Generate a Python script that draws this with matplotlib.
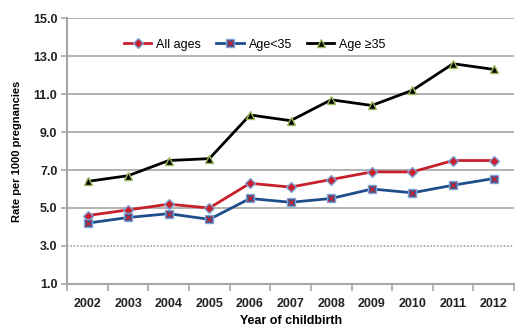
import matplotlib
matplotlib.use("Agg")
import matplotlib.pyplot as plt
from matplotlib.ticker import FixedLocator

years = ["2002", "2003", "2004", "2005", "2006", "2007", "2008", "2009", "2010", "2011", "2012"]
all_ages = [4.6, 4.9, 5.2, 5.0, 6.3, 6.1, 6.5, 6.9, 6.9, 7.5, 7.5]
age_lt35 = [4.2, 4.5, 4.7, 4.4, 5.5, 5.3, 5.5, 6.0, 5.8, 6.2, 6.55]
age_ge35 = [6.4, 6.7, 7.5, 7.6, 9.9, 9.6, 10.7, 10.4, 11.2, 12.6, 12.3]
yticks = [1.0, 3.0, 5.0, 7.0, 9.0, 11.0, 13.0, 15.0]

plt.rcParams['font.family'] = ['Liberation Sans', 'DejaVu Sans']

fig = plt.figure(figsize=(5.25, 3.36), dpi=100)
ax = fig.add_axes([0.128, 0.155, 0.851, 0.791])
x = list(range(len(years)))

for y in yticks[1:]:
    ls = (0, (1, 1)) if y == 3.0 else '-'
    ax.axhline(y, color='#a6a6a6', lw=1.2, ls=ls, zorder=0)

l1, = ax.plot(x, all_ages, color='#c8202c', lw=2, marker='D', ms=5.5,
              mfc='#c8202c', mec='#7ea6d8', mew=1, zorder=3)
l2, = ax.plot(x, age_lt35, color='#1f4e8c', lw=2, marker='s', ms=5.5,
              mfc='#2a5b9a', mec='#7ea6d8', mew=1, zorder=3)
l2x, = ax.plot(x, age_lt35, ls='none', marker='x', ms=4, mec='#c8202c', mew=1, zorder=4)
l3, = ax.plot(x, age_ge35, color='#000000', lw=2, marker='^', ms=6,
              mfc='#000000', mec='#9bbb59', mew=1, zorder=3)

ax.set_xlim(-0.5, len(years) - 0.5)
ax.set_ylim(1.0, 15.0)
ax.set_yticks(yticks)
ax.set_yticklabels(["%.1f" % v for v in yticks], fontweight='bold', fontsize=9, color='#222222')
ax.set_xticks(x)
ax.set_xticklabels(years, fontweight='bold', fontsize=9, color='#222222')
ax.tick_params(axis='x', which='major', length=0, pad=10)
ax.xaxis.set_minor_locator(FixedLocator([i - 0.5 for i in range(len(years) + 1)]))
ax.tick_params(axis='x', which='minor', length=5, color='#a6a6a6', width=1.2)
ax.tick_params(axis='y', length=4, color='#a6a6a6', width=1.2, pad=3)

for s in ['top', 'right']:
    ax.spines[s].set_visible(False)
for s in ['left', 'bottom']:
    ax.spines[s].set_color('#a6a6a6')
    ax.spines[s].set_linewidth(1.5)

ax.set_xlabel('Year of childbirth', fontweight='bold', fontsize=9, labelpad=4)
ax.set_ylabel('Rate per 1000 pregnancies', fontweight='bold', fontsize=8, labelpad=8)

ax.legend([l1, (l2, l2x), l3], ['All ages', 'Age<35', 'Age \u226535'],
          loc='center', bbox_to_anchor=(0.42, 0.9), ncol=3, frameon=False,
          fontsize=9, handlelength=2.2, columnspacing=1.2, handletextpad=0.4)

fig.savefig('out.png', dpi=100)
